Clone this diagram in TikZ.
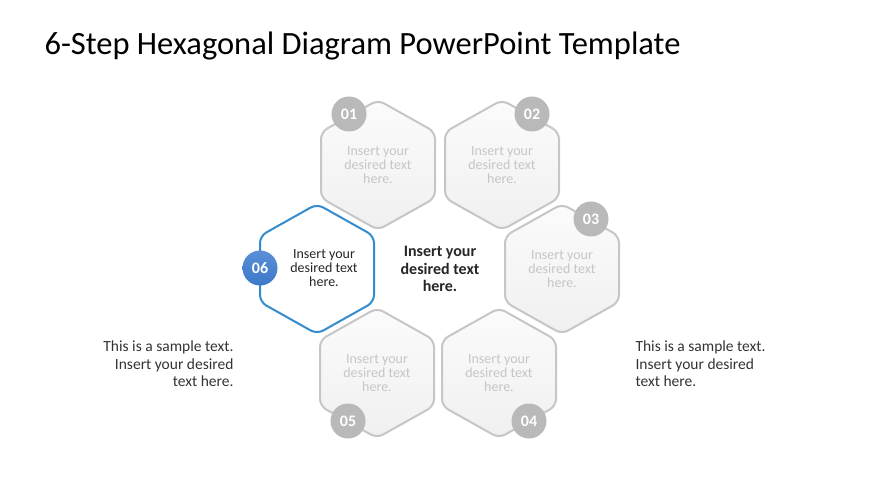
\documentclass[tikz,border=0pt]{standalone}
\usepackage{fontspec}
\setmainfont{Carlito}
\definecolor{bl}{HTML}{3C78C8}
\definecolor{bl2}{HTML}{5A8FD8}
\begin{document}
\begin{tikzpicture}[x=1pt,y=-1pt,
  hexf/.style={draw=gray!45,line width=2pt,rounded corners=7pt,top color=gray!3,bottom color=gray!12},
  num/.style={circle,fill=gray!55,text=white,font=\bfseries\fontsize{16}{16}\selectfont,minimum size=35pt,inner sep=0pt},
  faint/.style={align=center,text=gray!45,font=\fontsize{14}{14}\selectfont},
  side/.style={text=black!80,font=\fontsize{15.5}{17.5}\selectfont}]
\useasboundingbox (0,0) rectangle (870,489);
\node[anchor=west,font=\fontsize{32.5}{32}\selectfont] (title) at (41,46) {6-Step Hexagonal Diagram PowerPoint Template};
\foreach \n/\x/\y in {h1/378/165,h2/502/165,h3/562/269,h5/377/373,h4/499/373}{
  \draw[hexf] (\x,\y-65) -- (\x+57,\y-33) -- (\x+57,\y+33) -- (\x,\y+65) -- (\x-57,\y+33) -- (\x-57,\y-33) -- cycle;
  \node[faint] (\n) at (\x,\y) {Insert your\\desired text\\here.};
}
\draw[line width=2pt,rounded corners=7pt,fill=white,draw=bl!85!cyan]
  (317,204) -- (374,236) -- (374,302) -- (317,334) -- (260,302) -- (260,236) -- cycle;
\node[align=center,text=black!85,font=\fontsize{14}{14}\selectfont] (h6) at (324,268) {Insert your\\desired text\\here.};
\node[num] (n1) at (349,114) {01};
\node[num] (n2) at (532,114) {02};
\node[num] (n3) at (591,219) {03};
\node[num] (n5) at (348,421) {05};
\node[num] (n4) at (529,421) {04};
\node[circle,inner sep=0pt,minimum size=35pt,top color=bl2,bottom color=bl,text=white,font=\bfseries\fontsize{16}{16}\selectfont] (n6) at (260,268) {06};
\node[align=center,font=\bfseries\fontsize{16}{17.5}\selectfont,text=black!85] (c) at (440,269) {Insert your\\desired text\\here.};
\node[side,align=right,anchor=east] (l) at (237,364) {This is a sample text.\\Insert your desired\\text here.};
\node[side,align=left,anchor=west] (r) at (632,364) {This is a sample text.\\Insert your desired\\text here.};
\end{tikzpicture}
\end{document}
